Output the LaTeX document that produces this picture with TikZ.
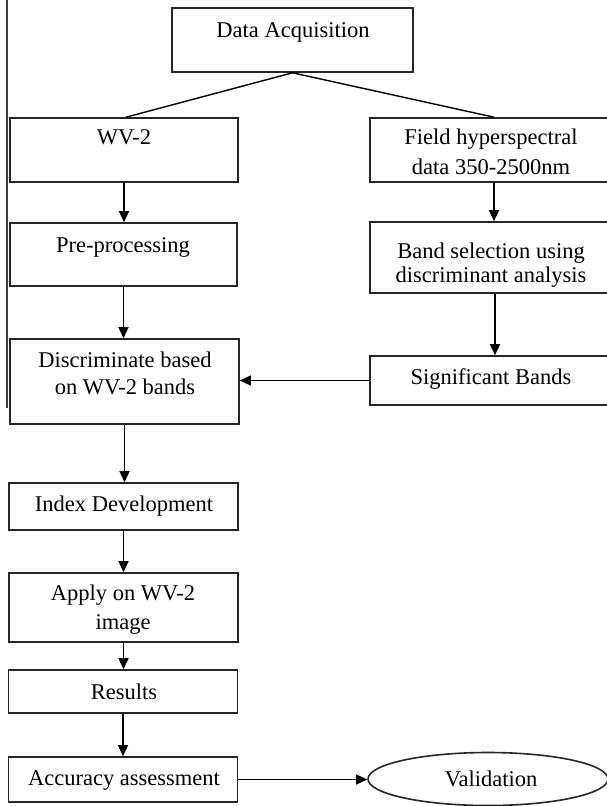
\documentclass[tikz,border=0pt]{standalone}
\usepackage{fontspec}
\setmainfont{Liberation Serif}
\usetikzlibrary{arrows.meta,shapes.geometric,calc}
\begin{document}
\begin{tikzpicture}[x=1pt,y=-1pt,
  boxs/.style={draw=black!85, line width=1.6pt, inner sep=0pt},
  lbl/.style={font=\fontsize{22.5}{27}\selectfont, inner sep=0pt, anchor=base},
  conn/.style={line width=1.4pt, draw=black},
  arr/.style={conn, -{Triangle[length=11pt,width=10pt]}}]
\useasboundingbox (0,0) rectangle (606,806);
% left margin rule
\coordinate (rtop) at (7,0);
\coordinate (rbot) at (7,408);
\draw[line width=1.2pt, black!75] (rtop) -- (rbot);
% boxes
\node[boxs, minimum width=241pt, minimum height=64pt] (da) at (292.5,40) {};
\node[boxs, minimum width=228pt, minimum height=64pt] (wv) at (124,150) {};
\node[boxs, minimum width=238pt, minimum height=64pt] (field) at (489,150) {};
\node[boxs, minimum width=227pt, minimum height=63pt] (pre) at (123.5,254.5) {};
\node[boxs, minimum width=238pt, minimum height=71pt] (band) at (489,257.5) {};
\node[boxs, minimum width=229pt, minimum height=85pt] (disc) at (124.5,381.5) {};
\node[boxs, minimum width=238pt, minimum height=49pt] (sig) at (489,380.5) {};
\node[boxs, minimum width=229pt, minimum height=47pt] (idx) at (123.5,506.5) {};
\node[boxs, minimum width=229pt, minimum height=69pt] (app) at (123.5,607.5) {};
\node[boxs, minimum width=229pt, minimum height=43pt] (res) at (123,691.5) {};
\node[boxs, minimum width=229pt, minimum height=45pt] (acc) at (123,779.5) {};
\node[boxs, ellipse, minimum width=240pt, minimum height=53pt] (val) at (488,779) {};
% labels
\node[lbl] (tda) at (293,37) {Data Acquisition};
\node[lbl] (twv) at (124,144.5) {WV-2};
\node[lbl] (tf1) at (491,144) {Field hyperspectral};
\node[lbl] (tf2) at (491,174) {data 350-2500nm};
\node[lbl] (tpre) at (123,252) {Pre-processing};
\node[lbl] (tb1) at (491,258) {Band selection using};
\node[lbl] (tb2) at (491,282) {discriminant analysis};
\node[lbl] (td1) at (125,367) {Discriminate based};
\node[lbl] (td2) at (125,394) {on WV-2 bands};
\node[lbl] (tsig) at (491,384) {Significant Bands};
\node[lbl] (tidx) at (124,511) {Index Development};
\node[lbl] (ta1) at (123,600) {Apply on WV-2};
\node[lbl] (ta2) at (123,629) {image};
\node[lbl] (tres) at (124,699) {Results};
\node[lbl] (tacc) at (124,785) {Accuracy assessment};
\node[lbl] (tval) at (491,786) {Validation};
% connectors
\draw[conn] (da.south) -- ([xshift=2pt]wv.north);
\draw[conn] (da.south) -- ([xshift=5pt]field.north);
\draw[arr] (wv.south) -- (wv.south |- pre.north);
\draw[arr] ([xshift=5pt]field.south) -- ([xshift=5pt]field.south |- band.north);
\draw[arr] (pre.south) -- (pre.south |- disc.north);
\draw[arr] ([xshift=6pt]band.south) -- ([xshift=6pt]band.south |- sig.north);
\draw[arr] (sig.west) -- (sig.west -| disc.east);
\draw[arr] (disc.south) -- (disc.south |- idx.north);
\draw[arr] (idx.south) -- (idx.south |- app.north);
\draw[arr] (app.south) -- (app.south |- res.north);
\draw[arr] (res.south) -- (res.south |- acc.north);
\draw[arr] (acc.east) -- (acc.east -| val.west);
\end{tikzpicture}
\end{document}
